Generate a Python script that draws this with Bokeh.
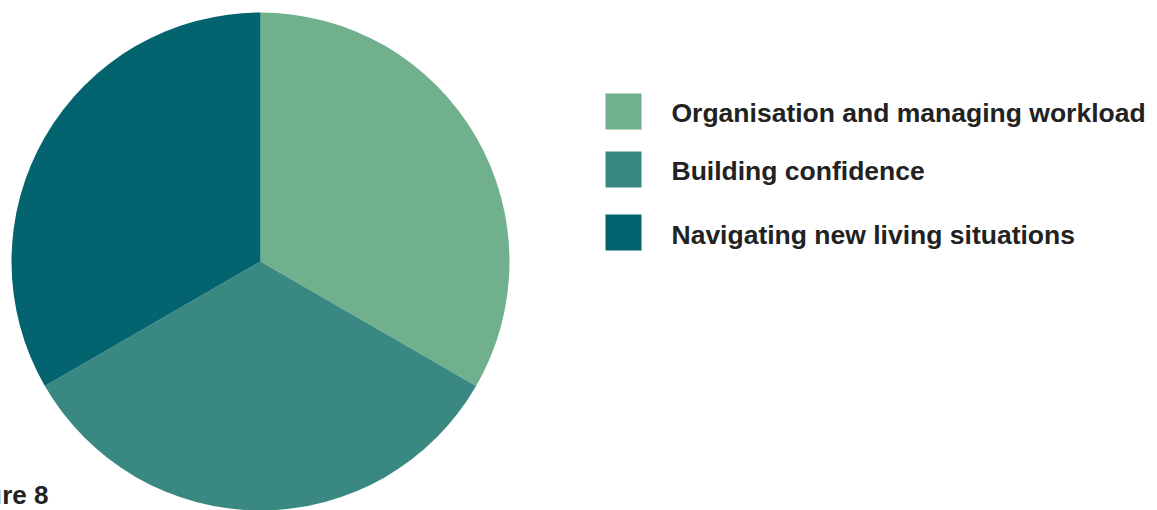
import math
from bokeh.plotting import figure
from bokeh.models import Range1d, ColumnDataSource
from bokeh.core.properties import value
from bokeh.embed import file_html
from bokeh.resources import INLINE

# Data
categories = ["Organisation and managing workload", "Building confidence", "Navigating new living situations"]
values = [1, 1, 1]
colors = ["#71B08D", "#398982", "#03636E"]
caption = "Figure 8"

W, H = 1157, 510
p = figure(width=W, height=H, output_backend="svg", toolbar_location=None,
           x_range=Range1d(0, W), y_range=Range1d(0, H), min_border=0,
           outline_line_color=None)
p.axis.visible = False
p.grid.visible = False
p.background_fill_color = "white"
p.border_fill_color = "white"

def px(x):
    return x

def py(y):
    return H - y

total = sum(values)
starts, ends = [], []
cum = 0
for v in values:
    a0 = math.pi / 2 - cum / total * 2 * math.pi
    cum += v
    a1 = math.pi / 2 - cum / total * 2 * math.pi
    starts.append(a0)
    ends.append(a1)

src = ColumnDataSource(dict(start=starts, end=ends, color=colors, cat=categories))
p.wedge(x=px(260), y=py(261), radius=249, start_angle="start", end_angle="end",
        direction="clock", fill_color="color", line_color=None, source=src)

# Legend
sq_centers = [111, 169, 232]
txt_centers = [112, 170, 234]
p.rect(x=[px(623)] * 3, y=[py(c) for c in sq_centers], width=36, height=36,
       fill_color=colors, line_color=None)
p.text(x=[px(671)] * 3, y=[py(c) for c in txt_centers], text=categories,
       text_font=value("Liberation Sans"), text_font_style="bold",
       text_font_size="26.5px", text_color="#222222", text_baseline="middle",
       text_align="left")

# Caption (partly off-page on the left)
p.text(x=[px(48)], y=[py(494)], text=[caption], text_font=value("Liberation Sans"),
       text_font_style="bold", text_font_size="26px", text_color="#222222",
       text_baseline="middle", text_align="right")

open("out.html", "w").write(file_html(p, INLINE))
